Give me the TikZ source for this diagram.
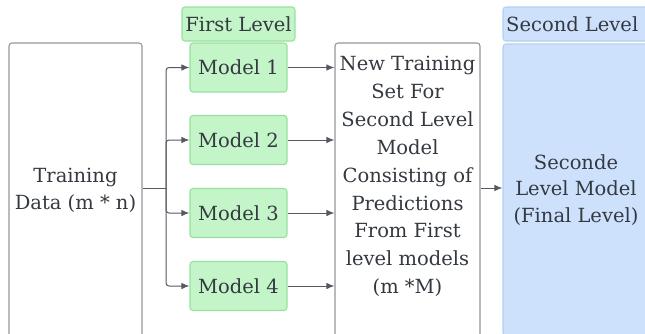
\documentclass[tikz,border=0pt]{standalone}
\usepackage{fontspec}
\setmainfont{DejaVu Serif}
\usetikzlibrary{arrows.meta}
\definecolor{txt}{RGB}{52,57,64}
\definecolor{lne}{RGB}{85,90,98}
\definecolor{gbord}{RGB}{150,150,156}
\definecolor{grfill}{RGB}{196,245,200}
\definecolor{grbord}{RGB}{150,225,160}
\definecolor{blfill}{RGB}{205,225,252}
\definecolor{blbord}{RGB}{182,206,240}
\tikzset{
  every node/.style={text=txt, font=\rmfamily\fontsize{19.5}{27}\selectfont, inner sep=0pt},
  whitebox/.style={draw=gbord, line width=1.1pt, rounded corners=3pt, fill=white},
  greenbox/.style={draw=grbord, line width=1.1pt, rounded corners=3pt, fill=grfill},
  bluebox/.style={draw=blbord, line width=1.1pt, rounded corners=3pt, fill=blfill},
  conn/.style={draw=lne, line width=1pt, -{Latex[length=8pt,width=6.5pt]}},
  plain/.style={draw=lne, line width=1pt}
}
\begin{document}
\begin{tikzpicture}[x=1pt,y=-1pt]
\useasboundingbox (0,0) rectangle (645,333);
\clip (0,0) rectangle (645,333);
% training data
\node[whitebox, minimum width=133pt, minimum height=294pt, align=center] (train) at (75.5,190) {Training\\Data (m * n)};
% first level
\node[greenbox, minimum width=113pt, minimum height=34pt] (lvl1) at (238.5,24) {First Level};
\node[greenbox, minimum width=97pt, minimum height=49pt] (m1) at (238.5,67.5) {Model 1};
\node[greenbox, minimum width=97pt, minimum height=49pt] (m2) at (238.5,140) {Model 2};
\node[greenbox, minimum width=97pt, minimum height=49pt] (m3) at (238.5,213) {Model 3};
\node[greenbox, minimum width=97pt, minimum height=49pt] (m4) at (238.5,286) {Model 4};
% new training set
\node[whitebox, minimum width=145pt, minimum height=300pt] (newbox) at (407.5,193) {};
\node[align=center, font=\rmfamily\fontsize{19.5}{27.9}\selectfont] (newtxt) at (407.5,176.5) {New Training\\Set For\\Second Level\\Model\\Consisting of\\Predictions\\From First\\level models\\(m *M)};
% second level
\node[bluebox, minimum width=146pt, minimum height=34pt] (lvl2box) at (576,24) {};
\node[anchor=west] (lvl2) at (506,24) {Second Level};
\node[bluebox, minimum width=146pt, minimum height=292pt, align=center, font=\rmfamily\fontsize{19.5}{26.5}\selectfont] (final) at (576,190) {Seconde\\Level Model\\(Final Level)};
% connectors
\coordinate (br) at (166,188);
\draw[plain] (train.east |- br) -- (br);
\draw[conn, rounded corners=3pt] (br) |- (m1.west);
\draw[conn, rounded corners=3pt] (br) |- (m2.west);
\draw[conn, rounded corners=3pt] (br) |- (m3.west);
\draw[conn, rounded corners=3pt] (br) |- (m4.west);
\draw[conn] (m1.east) -- (m1.east -| newbox.west);
\draw[conn] (m2.east) -- (m2.east -| newbox.west);
\draw[conn] (m3.east) -- (m3.east -| newbox.west);
\draw[conn] (m4.east) -- (m4.east -| newbox.west);
\draw[conn] (newbox.east |- br) -- (final.west |- br);
\end{tikzpicture}
\end{document}
